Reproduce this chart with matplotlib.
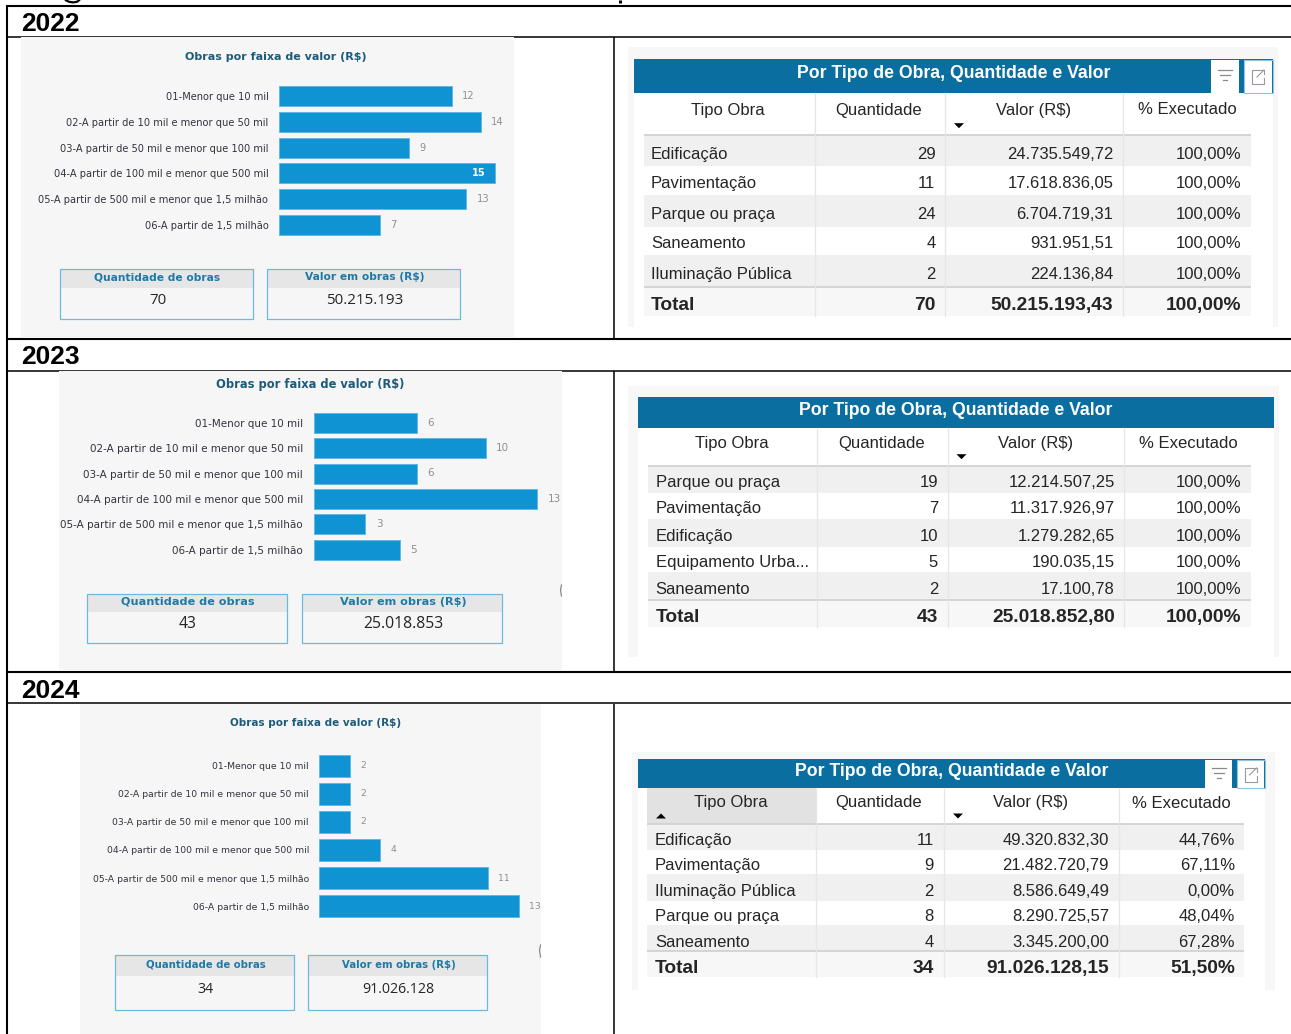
"""Obras por faixa de valor e por tipo de obra, 2022-2024 (painel em tabela)."""
import matplotlib
matplotlib.use("Agg")
import matplotlib.pyplot as plt
from matplotlib.patches import Rectangle, Polygon

W, H = 1291, 1034
WIDE = ["DejaVu Sans"]
ARIAL = ["Liberation Sans", "DejaVu Sans"]

YEARS = ["2022", "2023", "2024"]
FAIXAS = [
    "01-Menor que 10 mil",
    "02-A partir de 10 mil e menor que 50 mil",
    "03-A partir de 50 mil e menor que 100 mil",
    "04-A partir de 100 mil e menor que 500 mil",
    "05-A partir de 500 mil e menor que 1,5 milhão",
    "06-A partir de 1,5 milhão",
]
OBRAS_2022 = [12, 14, 9, 15, 13, 7]
OBRAS_2023 = [6, 10, 6, 13, 3, 5]
OBRAS_2024 = [2, 2, 2, 4, 11, 13]
KPI_QTD = ["70", "43", "34"]
KPI_VALOR = ["50.215.193", "25.018.853", "91.026.128"]

COLUNAS = ["Tipo Obra", "Quantidade", "Valor (R$)", "% Executado"]
TIPO_2022 = ["Edificação", "Pavimentação", "Parque ou praça", "Saneamento", "Iluminação Pública", "Total"]
QTD_2022 = ["29", "11", "24", "4", "2", "70"]
VALOR_2022 = ["24.735.549,72", "17.618.836,05", "6.704.719,31", "931.951,51", "224.136,84", "50.215.193,43"]
EXEC_2022 = ["100,00%", "100,00%", "100,00%", "100,00%", "100,00%", "100,00%"]
TIPO_2023 = ["Parque ou praça", "Pavimentação", "Edificação", "Equipamento Urba...", "Saneamento", "Total"]
QTD_2023 = ["19", "7", "10", "5", "2", "43"]
VALOR_2023 = ["12.214.507,25", "11.317.926,97", "1.279.282,65", "190.035,15", "17.100,78", "25.018.852,80"]
EXEC_2023 = ["100,00%", "100,00%", "100,00%", "100,00%", "100,00%", "100,00%"]
TIPO_2024 = ["Edificação", "Pavimentação", "Iluminação Pública", "Parque ou praça", "Saneamento", "Total"]
QTD_2024 = ["11", "9", "2", "8", "4", "34"]
VALOR_2024 = ["49.320.832,30", "21.482.720,79", "8.586.649,49", "8.290.725,57", "3.345.200,00", "91.026.128,15"]
EXEC_2024 = ["44,76%", "67,11%", "0,00%", "48,04%", "67,28%", "51,50%"]

# geometria dos paineis de barras, em pixels
BAR_PANELS = [
    dict(values=OBRAS_2022, panel=(21, 37, 514, 337), title=(275.5, 57.5), x0=279, unit=14.4,
         centers=(96.3, 224.7), bar_h=20, label_x=268.5, box1=(60, 253), box2=(267, 460),
         box_y=(269, 288, 319), fs=7.15, title_fs=8.0, head_fs=7.7, val_fs=10.9, val_y=300),
    dict(values=OBRAS_2023, panel=(59, 371, 562, 671), title=(310, 384.5), x0=314, unit=17.15,
         centers=(422.7, 549.7), bar_h=20, label_x=303, box1=(87, 287), box2=(302, 502),
         box_y=(594, 612, 643), fs=7.5, title_fs=8.3, head_fs=8.1, val_fs=11.3, val_y=624.5),
    dict(values=OBRAS_2024, panel=(80, 704, 541, 1034), title=(315.5, 723), x0=319, unit=15.35,
         centers=(765.5, 906.3), bar_h=22, label_x=309, box1=(115, 294), box2=(308, 487),
         box_y=(955, 976, 1010), fs=6.65, title_fs=7.5, head_fs=7.3, val_fs=10.2, val_y=989.5),
]

# geometria das tabelas, em pixels
TABLES = [
    dict(cols=(TIPO_2022, QTD_2022, VALOR_2022, EXEC_2022), panel=(628, 47, 1278, 327),
         bar=(634, 58.5, 1272.5, 92.5), table_x=(643.5, 1251), seps=(814.7, 945, 1123),
         rows=(135, 166, 195, 226.7, 255, 286.7, 316), head_y=109,
         text_y=(152.7, 182, 212.7, 242, 273, 304), title=(954, 72.3),
         text_x=(651, 935.4, 1113.4, 1241.3), head_x=(728, 879, 1034, 1187.4),
         arrow=(959, 125.7), icons=(1211, 1244), sorted_first=False),
    dict(cols=(TIPO_2023, QTD_2023, VALOR_2023, EXEC_2023), panel=(628, 386, 1279, 657),
         bar=(638, 397, 1273.5, 427.7), table_x=(648, 1251), seps=(817, 948, 1124),
         rows=(465.7, 493.3, 519, 547, 572.3, 600.3, 626.7), head_y=442.7,
         text_y=(481, 507.3, 535, 561, 588.3, 615.7), title=(956, 409.7),
         text_x=(655.5, 938, 1115, 1241.7), head_x=(732, 882, 1035.5, 1188),
         arrow=(961.5, 456.7), icons=None, sorted_first=False),
    dict(cols=(TIPO_2024, QTD_2024, VALOR_2024, EXEC_2024), panel=(631.5, 752.3, 1274.7, 990),
         bar=(638, 759.3, 1265, 787.7), table_x=(647, 1244), seps=(815.5, 944, 1118.5),
         rows=(824, 850, 874, 901, 925, 951, 976.7), head_y=802,
         text_y=(839, 863.7, 890, 915, 940.7, 966.7), title=(951.6, 771),
         text_x=(655, 933.6, 1109, 1235), head_x=(730.4, 879, 1031, 1181.4),
         arrow=(958, 816), icons=(1205, 1237), sorted_first=True),
]
BODY_FS = 12.0
TOTAL_FS = 13.8
BAR_TITLE_FS = 12.7


def rect(ax, x0, y0, x1, y1, **kw):
    ax.add_patch(Rectangle((x0, y0), x1 - x0, y1 - y0, **kw))


def draw_frame(bg):
    lw = 1.5
    for y in (5.5, 338.5, 671.7):
        bg.plot([7, W], [y, y], color="black", lw=lw, solid_capstyle="butt")
    for y in (37, 370.7, 703.3):
        bg.plot([7, W], [y, y], color="black", lw=1.1, solid_capstyle="butt", zorder=1)
    bg.plot([7, 7], [5, H], color="black", lw=lw, solid_capstyle="butt")
    for y0, y1 in ((37, 339), (371, 672), (704, H)):
        bg.plot([614, 614], [y0, y1], color="black", lw=1.1, solid_capstyle="butt")
    for year, y in zip(YEARS, (21.5, 354.5, 688.5)):
        bg.text(21, y, year, family=ARIAL, weight="bold", fontsize=19, va="center_baseline")
    # restos do titulo cortado no alto da pagina
    bg.plot([66, 69, 73, 77, 79], [0.3, 1.8, 2.4, 1.8, 0.3], color="black", lw=1.6)
    bg.plot([619.5, 619.5], [0, 2.6], color="black", lw=2.2, solid_capstyle="butt")


def draw_bars(fig, bg, p, kpi_qtd, kpi_valor):
    px0, py0, px1, py1 = p["panel"]
    rect(bg, px0, py0, px1, py1, fc="#f6f6f6", ec="none", zorder=2)
    bg.text(*p["title"], "Obras por faixa de valor (R$)", family=WIDE, weight="bold",
            fontsize=p["title_fs"], color="#1d5b7c", ha="center", va="center", zorder=3)

    c0, c5 = p["centers"]
    step = (c5 - c0) / 5
    top = c0 - step / 2
    bottom = c5 + step / 2
    ax = fig.add_axes([p["x0"] / W, 1 - bottom / H, (px1 - p["x0"]) / W, (bottom - top) / H])
    ax.patch.set_alpha(0)
    ax.set_zorder(2)
    ypos = list(range(len(FAIXAS)))
    ax.barh(ypos, p["values"], height=p["bar_h"] / step, color="#0f93d2", edgecolor="#62b8e2", linewidth=0.7)
    ax.set_xlim(0, (px1 - p["x0"]) / p["unit"])
    ax.set_ylim(5.5, -0.5)
    ax.set_yticks(ypos, FAIXAS, family=WIDE, fontsize=p["fs"], color="#33333f")
    ax.set_xticks([])
    ax.tick_params(axis="y", length=0, pad=(p["x0"] - p["label_x"]) * 0.72)
    for side in ax.spines.values():
        side.set_visible(False)
    for y, v in zip(ypos, p["values"]):
        if v == 15:
            ax.annotate(str(v), (v, y), xytext=(-6.5, 0), textcoords="offset points", ha="right", va="center",
                        family=WIDE, weight="bold", fontsize=p["fs"], color="white")
        else:
            ax.annotate(str(v), (v, y), xytext=(7.5, 0), textcoords="offset points", ha="left", va="center",
                        family=WIDE, fontsize=p["fs"], color="#8f8f8f", annotation_clip=False)

    by0, by1, by2 = p["box_y"]
    for (x0, x1), head, val in zip((p["box1"], p["box2"]), ("Quantidade de obras", "Valor em obras (R$)"),
                                   (kpi_qtd, kpi_valor)):
        rect(bg, x0, by1, x1, by2, fc="#f6f6f6", ec="none", zorder=3)
        rect(bg, x0, by0, x1, by1, fc="#e6e6e6", ec="none", zorder=3)
        rect(bg, x0, by0, x1, by2, fc="none", ec="#6cb9e0", lw=0.9, zorder=4)
        xm = (x0 + x1) / 2
        bg.text(xm + 1, (by0 + by1) / 2 - 1, head, family=WIDE, weight="bold", fontsize=p["head_fs"],
                color="#1d7aa8", ha="center", va="center", zorder=5)
        bg.text(xm + 1, p["val_y"], val, family=["Open Sans", "DejaVu Sans"], fontsize=p["val_fs"],
                color="#252525", ha="center", va="center", zorder=5)


def draw_icons(bg, x_filter, x_expand, y0, y1, x_end):
    w = x_expand - x_filter - 5
    for x in (x_filter, x_expand):
        rect(bg, x, y0, min(x + w, x_end), y1, fc="white", ec="none", zorder=5)
    rect(bg, x_expand, y0, x_end, y1, fc="none", ec="#8fc3de", lw=0.8, zorder=6)
    cx = x_filter + w / 2
    cy = (y0 + y1) / 2
    for half, dy in ((7, -6), (5, -1), (2, 4)):
        bg.plot([cx - half, cx + half], [cy + dy, cy + dy], color="#8a8a8a", lw=0.9, zorder=6)
    ex = x_expand + w / 2
    bg.plot([ex + 1, ex - 6, ex - 6, ex + 6, ex + 6], [cy - 6, cy - 6, cy + 8, cy + 8, cy + 2],
            color="#999999", lw=0.8, zorder=6)
    bg.plot([ex - 1, ex + 6], [cy + 1, cy - 6], color="#999999", lw=0.8, zorder=6)
    bg.plot([ex + 2, ex + 6, ex + 6], [cy - 6, cy - 6, cy - 2], color="#999999", lw=0.8, zorder=6)


def triangle(bg, x, y, up=False):
    s = -1 if up else 1
    bg.add_patch(Polygon([(x - 5, y - 2.5 * s), (x + 5, y - 2.5 * s), (x, y + 2.5 * s)], fc="black", ec="none", zorder=6))


def draw_table(bg, t):
    rect(bg, *t["panel"][:2], t["panel"][2], t["panel"][3], fc="#f7f7f7", ec="none", zorder=2)
    bx0, by0, bx1, by1 = t["bar"]
    tx0, tx1 = t["table_x"]
    rows = t["rows"]
    rect(bg, bx0, by1, bx1, t["panel"][3], fc="white", ec="none", zorder=2.5)
    rect(bg, bx0, by0, bx1, by1, fc="#0a6fa0", ec="none", zorder=3)
    bg.text(t["title"][0], t["title"][1] + 1, "Por Tipo de Obra, Quantidade e Valor", family=ARIAL, weight="bold",
            fontsize=BAR_TITLE_FS, color="white", ha="center", va="center", zorder=6)
    if t["icons"]:
        draw_icons(bg, t["icons"][0], t["icons"][1], by0 + 1, by1, bx1)
    if t["sorted_first"]:
        rect(bg, tx0, by1, t["seps"][0], rows[0], fc="#e2e2e2", ec="none", zorder=3)
        triangle(bg, tx0 + 14, t["arrow"][1], up=True)
    triangle(bg, *t["arrow"])

    for i in range(5):
        if i % 2 == 0:
            rect(bg, tx0, rows[i], tx1, rows[i + 1], fc="#f0f0f0", ec="none", zorder=3)
    rect(bg, tx0, rows[5], tx1, rows[6], fc="#f7f7f7", ec="none", zorder=3)
    for y in (rows[0], rows[5]):
        bg.plot([tx0, tx1], [y, y], color="#d2d2d2", lw=1.3, zorder=4, solid_capstyle="butt")
    for x in t["seps"]:
        bg.plot([x, x], [by1, rows[6]], color="#e6e6e6", lw=0.9, zorder=4)

    for name, x in zip(COLUNAS, t["head_x"]):
        bg.text(x, t["head_y"] + 1, name, family=ARIAL, fontsize=BODY_FS, color="#252525",
                ha="center", va="center", zorder=6)
    for j, col in enumerate(t["cols"]):
        for i, txt in enumerate(col):
            total = i == 5
            bg.text(t["text_x"][j], t["text_y"][i] + 1.5, txt, family=ARIAL,
                    fontsize=TOTAL_FS if total else BODY_FS, weight="bold" if total else "normal",
                    color="#252525", ha="left" if j == 0 else "right", va="center", zorder=6)


def main():
    fig = plt.figure(figsize=(W / 100, H / 100), dpi=100, facecolor="white")
    bg = fig.add_axes([0, 0, 1, 1])
    bg.set_xlim(0, W)
    bg.set_ylim(H, 0)
    bg.axis("off")
    bg.set_zorder(1)

    draw_frame(bg)
    for p, q, v in zip(BAR_PANELS, KPI_QTD, KPI_VALOR):
        draw_bars(fig, bg, p, q, v)
    for t in TABLES:
        draw_table(bg, t)

    # alca de redimensionar cortada na borda dos paineis
    bg.plot([561.5, 560.5, 561.5], [585, 590, 596], color="#8a8a8a", lw=0.9, zorder=4)
    bg.plot([540.5, 539.5, 540.5], [945, 950, 957], color="#8a8a8a", lw=0.9, zorder=4)

    fig.savefig("out.png", dpi=100)
    plt.close(fig)


if __name__ == "__main__":
    main()
